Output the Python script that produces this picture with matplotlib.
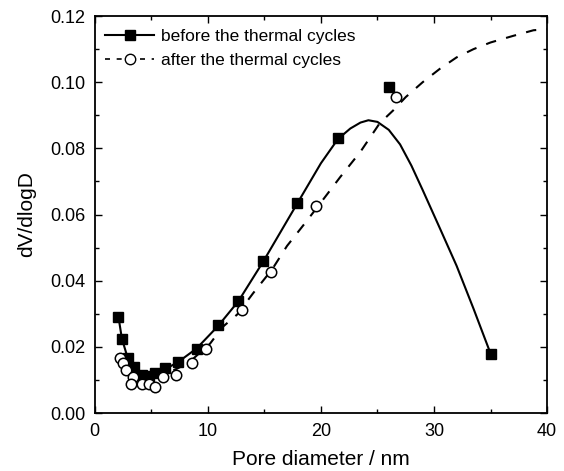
import numpy as np
import matplotlib.pyplot as plt
from matplotlib.lines import Line2D
from matplotlib.ticker import MultipleLocator

plt.rcParams['font.family'] = ['Liberation Sans', 'DejaVu Sans']

# measured points, before the thermal cycles
x_before = [2.1, 2.4, 2.9, 3.5, 4.2, 4.8, 5.3, 6.2, 7.4, 9.0, 10.9, 12.7, 14.9, 17.9, 21.5, 26.0, 35.0]
y_before = [0.029, 0.0225, 0.0165, 0.0138, 0.0115, 0.0112, 0.012, 0.0135, 0.0155, 0.0195,
            0.0265, 0.034, 0.046, 0.0635, 0.083, 0.0985, 0.018]

# measured points, after the thermal cycles
x_after = [2.2, 2.5, 2.8, 3.4, 3.2, 4.2, 4.8, 5.3, 6.0, 7.2, 8.6, 9.8, 13.0, 15.6, 19.6, 26.6]
y_after = [0.0165, 0.015, 0.013, 0.011, 0.0088, 0.0088, 0.0088, 0.0079, 0.011, 0.0115,
           0.015, 0.0195, 0.031, 0.0425, 0.0625, 0.0955]

# fitted curves
cx_before = [2.1, 2.4, 2.9, 3.5, 4.2, 5.0, 6.0, 7.4, 9.0, 10.9, 12.7, 14.9, 17.9, 20.0, 21.5,
             22.6, 23.5, 24.2, 25.0, 26.0, 27.0, 28.0, 29.0, 30.5, 32.0, 33.5, 35.0]
cy_before = [0.029, 0.0225, 0.0168, 0.0135, 0.0118, 0.0115, 0.0128, 0.0155, 0.0195, 0.0263,
             0.0338, 0.0458, 0.0633, 0.0755, 0.0828, 0.0860, 0.0878, 0.0885, 0.0880, 0.0856,
             0.0812, 0.0748, 0.0674, 0.056, 0.0445, 0.0315, 0.018]

cx_after = [2.2, 2.8, 3.5, 4.5, 5.5, 6.5, 7.5, 8.5, 10.2, 11.3, 12.6, 14.0, 15.7, 17.0, 18.8,
            20.3, 21.7, 23.5, 25.2, 26.4, 27.5, 29.0, 30.5, 32.0, 33.5, 35.0, 37.0, 38.8, 40.0]
cy_after = [0.0165, 0.0135, 0.0118, 0.0108, 0.011, 0.0122, 0.0138, 0.0158, 0.021, 0.026,
            0.0298, 0.0362, 0.0435, 0.0505, 0.0583, 0.065, 0.0713, 0.079, 0.0876, 0.0915,
            0.0955, 0.100, 0.104, 0.1075, 0.110, 0.112, 0.114, 0.1157, 0.116]

fig = plt.figure(figsize=(5.64, 4.71), dpi=100)
ax = fig.add_axes([0.168, 0.123, 0.802, 0.843])

ax.plot(cx_before, cy_before, '-', color='k', lw=1.5, zorder=2)
ax.plot(cx_after, cy_after, color='k', lw=1.5, linestyle=(0, (5, 5)), zorder=2)
ax.plot(x_before, y_before, 's', color='k', ms=6.5, zorder=3, linestyle='none')
ax.plot(x_after, y_after, 'o', mfc='white', mec='k', mew=1.1, ms=7.5, zorder=4, linestyle='none')

ax.set_xlim(0, 40)
ax.set_ylim(0, 0.12)
ax.xaxis.set_major_locator(MultipleLocator(10))
ax.xaxis.set_minor_locator(MultipleLocator(5))
ax.yaxis.set_major_locator(MultipleLocator(0.02))
ax.yaxis.set_minor_locator(MultipleLocator(0.01))
ax.yaxis.set_major_formatter(plt.FuncFormatter(lambda v, p: f'{v:.2f}'))
ax.tick_params(which='both', direction='in', top=True, right=True, labelsize=13, pad=7)
ax.tick_params(which='major', length=5, width=1)
ax.tick_params(which='minor', length=3, width=1)
for s in ax.spines.values():
    s.set_linewidth(1.3)

ax.set_xlabel('Pore diameter / nm', fontsize=15, labelpad=7)
ax.set_ylabel('dV/dlogD', fontsize=15, labelpad=10)

h1 = Line2D([], [], color='k', lw=1.5, marker='s', ms=6.5)
h2 = Line2D([], [], color='k', lw=1.2, linestyle=(0, (3, 4)), marker='o', mfc='white', mec='k', ms=7.5)
ax.legend([h1, h2], ['before the thermal cycles', 'after the thermal cycles'],
          loc='upper left', bbox_to_anchor=(-0.015, 1.012), frameon=False, fontsize=12.5,
          handlelength=2.8, handletextpad=0.4, labelspacing=0.5, borderaxespad=0.6, borderpad=0.4)

fig.savefig('out.png', dpi=100)
